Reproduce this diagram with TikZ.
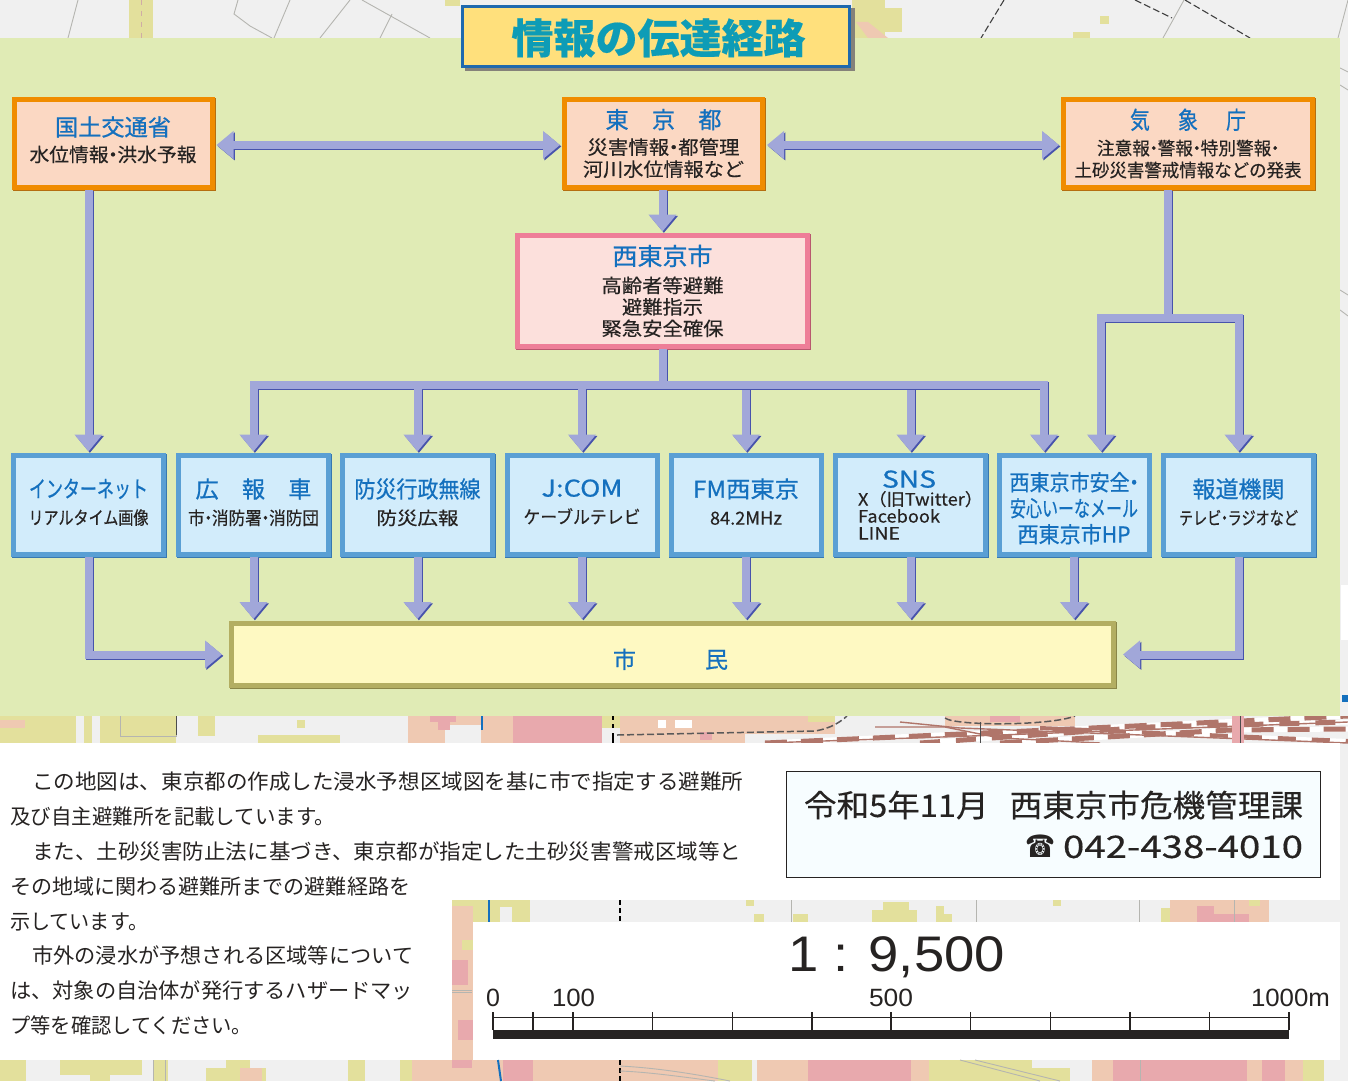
\documentclass[tikz,border=0pt]{standalone}
\usepackage{fontspec}
\usepackage{graphicx}
\setmainfont{Noto Sans CJK JP}[FakeBold=0.35]
\newfontfamily\plainjp{Noto Sans CJK JP}
\newfontfamily\medjp{Noto Sans CJK JP}[FakeBold=0.7]
\newfontfamily\lat{Liberation Sans}
\newfontfamily\sym{DejaVu Sans}
\usetikzlibrary{arrows.meta,shadows}
\definecolor{mapgray}{HTML}{F0F0F0}
\definecolor{mapyel}{HTML}{E3E09C}
\definecolor{maptan}{HTML}{EFC9B2}
\definecolor{mappink}{HTML}{E8A9AD}
\definecolor{mapline}{HTML}{B5B5B0}
\definecolor{rail}{HTML}{B0756A}
\definecolor{panel}{HTML}{E0EBB5}
\definecolor{ttlblue}{HTML}{1470BE}
\definecolor{ink}{HTML}{262322}
\definecolor{linkc}{HTML}{A1A7D9}
\definecolor{linkd}{HTML}{4753AC}
\definecolor{peach}{HTML}{FBD8C3}
\definecolor{orangeb}{HTML}{F08C00}
\definecolor{dorange}{HTML}{B56E10}
\definecolor{pinkb}{HTML}{EE7E98}
\definecolor{pinkf}{HTML}{FCE0DC}
\definecolor{pinkd}{HTML}{B8586E}
\definecolor{blueb}{HTML}{5A9FD4}
\definecolor{bluef}{HTML}{D2ECFB}
\definecolor{blued}{HTML}{3878B0}
\definecolor{oliveb}{HTML}{B3AE62}
\definecolor{olivef}{HTML}{FEF9C2}
\definecolor{olived}{HTML}{8A8648}
\definecolor{titleb}{HTML}{1F69AE}
\definecolor{titlef}{HTML}{FFE07C}
\definecolor{titles}{HTML}{85827A}
\newcommand\rw[2]{\resizebox{#1pt}{\height}{#2}}
\newcommand\nd{\hspace{-.28em}・\hspace{-.28em}}
\newcommand\blu[3]{{\color{ttlblue}\medjp\fontsize{#1}{#1}\selectfont\rw{#2}{#3}}}
\newcommand\lift[1]{\rule[-#1pt]{0pt}{0pt}}
% a connector: its dark edge first, slightly offset, then the light body
\newcommand\wirepath[2]{%
  \begin{scope}[transform canvas={shift={(1.4pt,-1.4pt)}}]
    \draw[wire,#1,draw=linkd] #2;
  \end{scope}
  \draw[wire,#1] #2;}
\tikzset{
  wire/.style={draw=linkc,line width=8pt,line join=miter},
  arrowwire/.style={-{Triangle[width=27pt,length=17pt]}},
  bothwire/.style={{Triangle[width=27pt,length=17pt]}-{Triangle[width=27pt,length=17pt]}},
  base/.style={draw,line width=5pt,inner sep=0pt,align=center,text=ink,anchor=center},
  orangebox/.style={base,draw=orangeb,fill=peach,
    copy shadow={shadow xshift=1.2pt,shadow yshift=-1.4pt,draw=dorange,fill=dorange},
    minimum height=88pt,font=\fontsize{19}{22}\selectfont},
  pinkbox/.style={base,draw=pinkb,fill=pinkf,
    copy shadow={shadow xshift=1.2pt,shadow yshift=-1.4pt,draw=pinkd,fill=pinkd},
    minimum width=290pt,minimum height=111pt,font=\fontsize{19}{21.5}\selectfont},
  bluebox/.style={base,draw=blueb,fill=bluef,
    copy shadow={shadow xshift=0.8pt,shadow yshift=-1.2pt,draw=blued,fill=blued},
    minimum width=150pt,minimum height=99pt,font=\fontsize{18}{27}\selectfont},
  olivebox/.style={base,draw=oliveb,fill=olivef,
    copy shadow={shadow xshift=1pt,shadow yshift=-1.4pt,draw=olived,fill=olived},
    minimum width=882pt,minimum height=62pt},
  titlebox/.style={draw=titleb,line width=3pt,fill=titlef,inner sep=0pt,
    copy shadow={shadow xshift=3.5pt,shadow yshift=-3pt,draw=titles,fill=titles},
    minimum width=387pt,minimum height=60pt},
  tick/.style={draw=ink,line width=1.1pt},
  scalelab/.style={inner sep=0pt,text=ink,font=\lat\fontsize{25}{25}\selectfont},
  mapl/.style={draw=mapline,line width=0.9pt},
  dashl/.style={draw=black!75,line width=1.1pt,dash pattern=on 7pt off 3pt}
}
\begin{document}
\begin{tikzpicture}[x=1pt,y=-1pt]
\useasboundingbox (0,0) rectangle (1348,1081);
% map base
\fill[mapgray] (0,0) rectangle (1348,1081);
% top strip
\fill[mapyel] (129,0) rectangle (153,38);
\draw[rail!60,line width=1pt,dash pattern=on 5pt off 6pt] (141,0) -- (141,38);
\fill[mapyel] (852,0) rectangle (885,38);
\fill[mapyel] (885,8) rectangle (902,32);
\fill[maptan] (856,22) -- (868,38) -- (888,38) -- (868,22) -- cycle;
\fill[mapyel] (1100,16) rectangle (1109,24);
\fill[mapyel] (1073,32) rectangle (1090,38);
\fill[mapyel] (445,0) rectangle (460,6);
\draw[mapl] (78,0) -- (68,38);
\draw[mapl] (238,0) -- (234,14) -- (250,26) -- (272,38);
\draw[mapl] (290,0) -- (274,38);
\draw[mapl] (350,0) -- (320,38);
\draw[mapl] (362,0) -- (430,38);
\draw[mapl] (392,14) -- (380,38);
\draw[dashl] (1004,0) -- (981,38);
\draw[dashl] (1135,0) -- (1172,18);
\draw[dashl] (1185,0) -- (1250,38);
\draw[mapl] (1184,0) -- (1163,38);
\draw[mapl] (1348,0) -- (1338,38);
% right strip
\draw[mapl] (1340,68) -- (1348,72);
\draw[mapl] (1340,85) -- (1348,90);
\draw[mapl] (1340,290) -- (1348,295);
\draw[mapl] (1340,310) -- (1348,316);
\fill[white] (1341,585) rectangle (1348,640);
\fill[ttlblue] (1342,695) rectangle (1348,702);
% strip under the panel
\fill[mapyel] (0,716) rectangle (76,743);
\fill[maptan] (0,720) rectangle (25,728);
\fill[mapyel] (84,716) rectangle (176,743);
\fill[mapgray] (92,716) rectangle (100,743);
\fill[mapyel] (198,716) rectangle (215,736);
\fill[mapyel] (258,735) rectangle (340,743);
\fill[mapyel] (297,720) rectangle (305,728);
\draw[mapl] (176,716) -- (176,736) -- (120,736) -- (120,716);
\draw[black!70,line width=1pt] (176,716) -- (176,735);
\fill[maptan] (408,716) rectangle (481,743);
\fill[mapgray] (445,725) rectangle (481,743);
\fill[mappink] (430,716) rectangle (456,722);
\fill[mappink] (438,722) rectangle (450,730);
\fill[maptan] (481,716) rectangle (513,743);
\fill[mappink] (513,716) rectangle (602,743);
\fill[mapyel] (602,716) rectangle (640,728);
\fill[maptan] (620,716) rectangle (835,743);
\fill[mapyel] (808,716) rectangle (835,722);
\fill[white] (658,720) rectangle (666,728);
\fill[white] (675,720) rectangle (692,728);
\fill[mappink] (700,732) rectangle (712,740);
\fill[mapgray] (745,734) rectangle (835,743);
\draw[ttlblue,line width=1.6pt] (482,716) -- (482,730);
\draw[black,line width=1.5pt] (613,733) -- (613,743);
\draw[black,line width=1.5pt,dash pattern=on 4pt off 4pt] (613,716) -- (613,730);
\draw[black!65,line width=1.5pt,dash pattern=on 7pt off 3pt] (617,735) -- (815,731) .. controls (832,728) and (840,722) .. (847,716);
\fill[maptan] (945,716) rectangle (1075,726);
\fill[mappink] (990,716) rectangle (1020,722);
\draw[black!65,line width=1.5pt,dash pattern=on 7pt off 3pt] (945,718) .. controls (955,726) and (1050,726) .. (1075,716);
\begin{scope}
\clip (760,716) rectangle (1348,743);
\draw[white,line width=5pt] (765,743) -- (1070,729) -- (1348,716);
\draw[white,line width=5pt] (920,743) -- (1150,727) -- (1348,722);
\draw[white,line width=5pt] (1000,743) -- (1230,730) -- (1348,729);
\draw[white,line width=4pt] (1040,728) -- (1348,741);
\draw[rail,line width=1.4pt] (765,743) -- (1000,735) -- (1348,722);
\draw[rail,line width=1.4pt] (875,727) -- (945,727) -- (1000,738) -- (1100,743);
\draw[rail,line width=1.4pt] (900,722) -- (960,728) -- (1348,743);
\draw[rail,line width=5pt,dash pattern=on 22pt off 14pt] (765,743) -- (1070,729) -- (1348,716);
\draw[rail,line width=5pt,dash pattern=on 20pt off 16pt] (920,743) -- (1150,727) -- (1348,722);
\draw[rail,line width=5pt,dash pattern=on 22pt off 14pt] (1000,743) -- (1230,730) -- (1348,729);
\draw[rail,line width=4pt,dash pattern=on 18pt off 16pt] (1040,728) -- (1348,741);
\fill[mappink] (1232,716) rectangle (1244,743);
\draw[black!70,line width=0.8pt] (1240,716) -- (1240,743);
\draw[black!70,line width=0.8pt] (980,722) -- (980,743);
\end{scope}
% white page areas
\fill[white] (0,743) rectangle (1340,900);
\fill[white] (0,900) rectangle (452,1060);
% strip above scale panel
\fill[mapyel] (452,900) rectangle (530,922);
\fill[maptan] (452,906) rectangle (473,1060);
\fill[mapgray] (500,907) rectangle (512,922);
\fill[mapyel] (754,914) rectangle (764,922);
\fill[mapyel] (746,900) rectangle (754,906);
\fill[mapyel] (793,914) rectangle (808,922);
\fill[mapyel] (872,910) rectangle (917,922);
\fill[mapyel] (883,902) rectangle (909,910);
\fill[mapyel] (936,906) rectangle (944,922);
\fill[mapyel] (944,914) rectangle (952,922);
\fill[mapyel] (1053,900) rectangle (1061,906);
\fill[mapyel] (1161,908) rectangle (1170,922);
\fill[maptan] (1170,900) rectangle (1269,922);
\fill[mappink] (1197,906) rectangle (1214,922);
\fill[mappink] (1214,914) rectangle (1249,922);
\fill[mapyel] (1249,900) rectangle (1260,906);
\fill[mappink] (452,960) rectangle (468,985);
\fill[mappink] (458,1020) rectangle (473,1040);
\fill[mapyel] (462,940) rectangle (473,950);
\draw[ttlblue,line width=1.8pt] (489,900) -- (489,922);
\draw[black,line width=2pt,dash pattern=on 5pt off 3pt] (620,900) -- (620,922);
\draw[mapl] (791,900) -- (791,922);
\draw[mapl] (976,900) -- (976,922);
\draw[mapl] (1139,900) -- (1139,922);
\draw[mapl] (1234,900) -- (1234,922);
\draw[mapl] (452,990) -- (472,990);
\draw[mapl] (452,992) -- (472,992);
\fill[white] (473,922) rectangle (1340,1060);
% bottom strip
\fill[mapyel] (0,1060) rectangle (26,1081);
\fill[mapyel] (60,1060) rectangle (142,1075);
\fill[mapyel] (90,1075) rectangle (110,1081);
\fill[mapyel] (153,1060) rectangle (168,1081);
\fill[mapyel] (206,1068) rectangle (266,1081);
\fill[mapyel] (226,1060) rectangle (250,1068);
\fill[maptan] (240,1068) rectangle (262,1081);
\fill[mapyel] (348,1060) rectangle (365,1081);
\fill[mapyel] (400,1060) rectangle (412,1081);
\fill[maptan] (412,1060) rectangle (718,1081);
\fill[mappink] (452,1060) rectangle (472,1068);
\fill[mappink] (503,1060) rectangle (533,1081);
\fill[mapyel] (718,1060) rectangle (752,1081);
\fill[maptan] (757,1060) rectangle (808,1081);
\fill[mappink] (808,1060) rectangle (911,1081);
\fill[maptan] (911,1060) rectangle (929,1081);
\fill[mapyel] (929,1060) rectangle (1032,1081);
\fill[mapyel] (1032,1068) rectangle (1070,1081);
\fill[maptan] (1092,1060) rectangle (1113,1081);
\fill[mappink] (1113,1060) rectangle (1247,1081);
\fill[maptan] (1247,1060) rectangle (1303,1081);
\fill[mappink] (1262,1060) rectangle (1285,1081);
\fill[mapyel] (1303,1060) rectangle (1324,1081);
\draw[ttlblue,line width=2pt] (498,1060) -- (501,1081);
\draw[black,line width=2pt,dash pattern=on 5pt off 3pt] (620,1060) -- (620,1081);
\draw[mapl] (620,1066) .. controls (660,1068) and (700,1075) .. (730,1081);
\draw[mapl] (620,1071) .. controls (650,1072) and (690,1078) .. (715,1081);
\draw[mapl] (960,1060) -- (1040,1081);
\draw[mapl] (975,1060) -- (1060,1081);
\draw[mapl] (153,1060) -- (153,1081);
\draw[mapl] (165,1060) -- (165,1081);
\draw[mapl] (1140,1060) -- (1140,1081);
% panel
\fill[panel] (0,38) rectangle (1340,716);
% boxes
\node[titlebox] (title) at (656,36.5) {\hspace{5pt}\rule{0pt}{38pt}{\color[HTML]{0E9CB6}\bfseries\fontsize{41}{41}\selectfont\rw{294}{情報の伝達経路}}};
\node[orangebox,minimum width=198pt] (kokudo) at (113,143.5) {\blu{23}{116}{国土交通省}\\[4pt]\rw{167}{水位情報\nd 洪水予報}\lift{9}};
\node[orangebox,minimum width=198pt] (tokyo) at (663.5,143.5) {\blu{23}{116}{東\hspace{23pt}京\hspace{23pt}都}\\[4pt]\rw{152}{災害情報\nd 都管理}\\\rw{161}{河川水位情報など}};
\node[orangebox,minimum width=249pt,font=\fontsize{18}{22}\selectfont] (kisho) at (1188,143.5) {\blu{24}{116}{気\hspace{34pt}象\hspace{34pt}庁}\\[4pt]\rw{182}{注意報\nd 警報\nd 特別警報\nd}\\\rw{227}{土砂災害警戒情報などの発表}};
\node[pinkbox] (nishi) at (662.5,291) {\blu{24}{100}{西東京市}\\[6pt]\rw{122}{高齢者等避難}\\\rw{81}{避難指示}\\\rw{122}{緊急安全確保}};
\node[bluebox] (inet) at (88.5,505) {\blu{23}{119}{インターネット}\\\rw{120}{リアルタイム画像}\lift{7}};
\node[bluebox] (hiro) at (253.5,505) {\blu{23}{116}{広\hspace{23pt}報\hspace{23pt}車}\\\rw{131}{市\nd 消防署\nd 消防団}\lift{7}};
\node[bluebox] (bosai) at (417.5,505) {\blu{23}{126}{防災行政無線}\\\rw{82}{防災広報}\lift{7}};
\node[bluebox] (jcom) at (582,505) {\blu{23}{81}{J:COM}\\\rw{117}{ケーブルテレビ}\lift{7}};
\node[bluebox] (fm) at (746,505) {\blu{23}{106}{FM西東京}\\\rw{72}{84.2MHz}\lift{7}};
\node[bluebox,font=\fontsize{17}{17}\selectfont] (sns) at (910.5,505) {\hspace{-3pt}\blu{23}{54}{SNS}\\[1pt]\hspace{20pt}\rw{125}{X（旧Twitter）}\\\hspace{20pt}\makebox[125pt][l]{\rw{82}{Facebook}}\\\hspace{20pt}\makebox[125pt][l]{\rw{42}{LINE}}};
\node[bluebox,font=\fontsize{22}{26}\selectfont] (mail) at (1074,505) {\rule{0pt}{25pt}\blu{22}{129}{西東京市安全\nd}\\\blu{22}{128}{安心いーなメール}\\\blu{22}{113}{西東京市HP}};
\node[bluebox] (hodo) at (1238.5,505) {\blu{23}{92}{報道機関}\\\rw{119}{テレビ\nd ラジオなど}\lift{7}};
\node[olivebox] (shimin) at (672.5,654.5) {\hspace{-4pt}\rule{0pt}{29pt}\blu{23}{115}{市\hspace{69pt}民}};
% connectors
\coordinate (bus) at (662.5,385);
\coordinate (mailL) at ([xshift=-30pt]mail.north);
\coordinate (mailR) at ([xshift=27pt]mail.north);
\coordinate (kishoS) at ([xshift=-20pt]kisho.south);
\coordinate (kishoJ) at (1168,318);
\wirepath{bothwire,shorten <=2pt,shorten >=2pt}{([yshift=-1.5pt]kokudo.east) -- ([yshift=-1.5pt]tokyo.west)}
\wirepath{bothwire,shorten <=2pt,shorten >=2pt}{([yshift=-1.5pt]tokyo.east) -- ([yshift=-1.5pt]kisho.west)}
\wirepath{arrowwire,shorten >=1.5pt}{(tokyo.south -| nishi.north) -- (nishi.north)}
\wirepath{arrowwire,shorten >=1.5pt}{(inet.north |- kokudo.south) -- (inet.north)}
\wirepath{}{(nishi.south) -- (bus)}
\foreach \t in {hiro,bosai,jcom,fm,sns}{
  \wirepath{arrowwire,shorten >=1.5pt}{(bus) -| (\t.north)}
}
\wirepath{arrowwire,shorten >=1.5pt}{(bus) -| (mailL)}
\wirepath{}{(kishoS) -- (kishoJ)}
\wirepath{arrowwire,shorten >=1.5pt}{(kishoJ) -| (mailR)}
\wirepath{arrowwire,shorten >=1.5pt}{(kishoJ) -| (hodo.north)}
\foreach \t in {hiro,bosai,jcom,fm,sns,mail}{
  \wirepath{arrowwire,shorten >=2pt}{(\t.south) -- (\t.south |- shimin.north)}
}
\wirepath{arrowwire,shorten >=7pt}{(inet.south) |- (shimin.west)}
\wirepath{arrowwire,shorten >=7pt}{(hodo.south) |- (shimin.east)}
% explanatory text
\node[anchor=north west,inner sep=0pt,align=left,text=ink,font=\plainjp\fontsize{21}{34.8}\selectfont] (note) at (10,772) {%
\hspace{22pt}\rw{711}{この地図は、東京都の作成した浸水予想区域図を基に市で指定する避難所}\\
\rw{325}{及び自主避難所を記載しています。}\\
\hspace{22pt}\rw{709}{また、土砂災害防止法に基づき、東京都が指定した土砂災害警戒区域等と}\\
\rw{400}{その地域に関わる避難所までの避難経路を}\\
\rw{138}{示しています。}\\
\hspace{22pt}\rw{381}{市外の浸水が予想される区域等について}\\
\rw{403}{は、対象の自治体が発行するハザードマッ}\\
\rw{242}{プ等を確認してください。}};
% contact box
\node[draw=ink,line width=1.8pt,fill=white!90!cyan!30,minimum width=534pt,minimum height=106pt,inner sep=0pt,align=right,text=ink,font=\fontsize{31}{41}\selectfont] (contact) at (1053.5,824.5) {%
\rw{499}{令和5年11月\hspace{20pt}西東京市危機管理課}\hspace{17pt}\\
{\sym\rw{30}{☎}}\hspace{8pt}\rw{240}{042-438-4010}\hspace{18pt}};
% scale
\node[inner sep=0pt,text=ink,font=\lat\fontsize{50}{50}\selectfont] (ratio) at (896.5,957) {\rw{217}{1 : 9,500}};
\node[scalelab] (s0) at (493,998) {0};
\node[scalelab] (s100) at (573.5,998) {\rw{43}{100}};
\node[scalelab] (s500) at (891,998) {\rw{44}{500}};
\node[scalelab] (s1000) at (1290.5,998) {\rw{79}{1000m}};
\fill[ink] (493,1029.5) rectangle (1289,1039);
\draw[tick] (493,1017.5) -- (1289,1017.5);
\foreach \x in {493,533,573,652.5,732.5,812,891,970.5,1050.5,1130,1209.5,1289}{
  \draw[tick] (\x,1012) -- (\x,1030);
}
\end{tikzpicture}
\end{document}
